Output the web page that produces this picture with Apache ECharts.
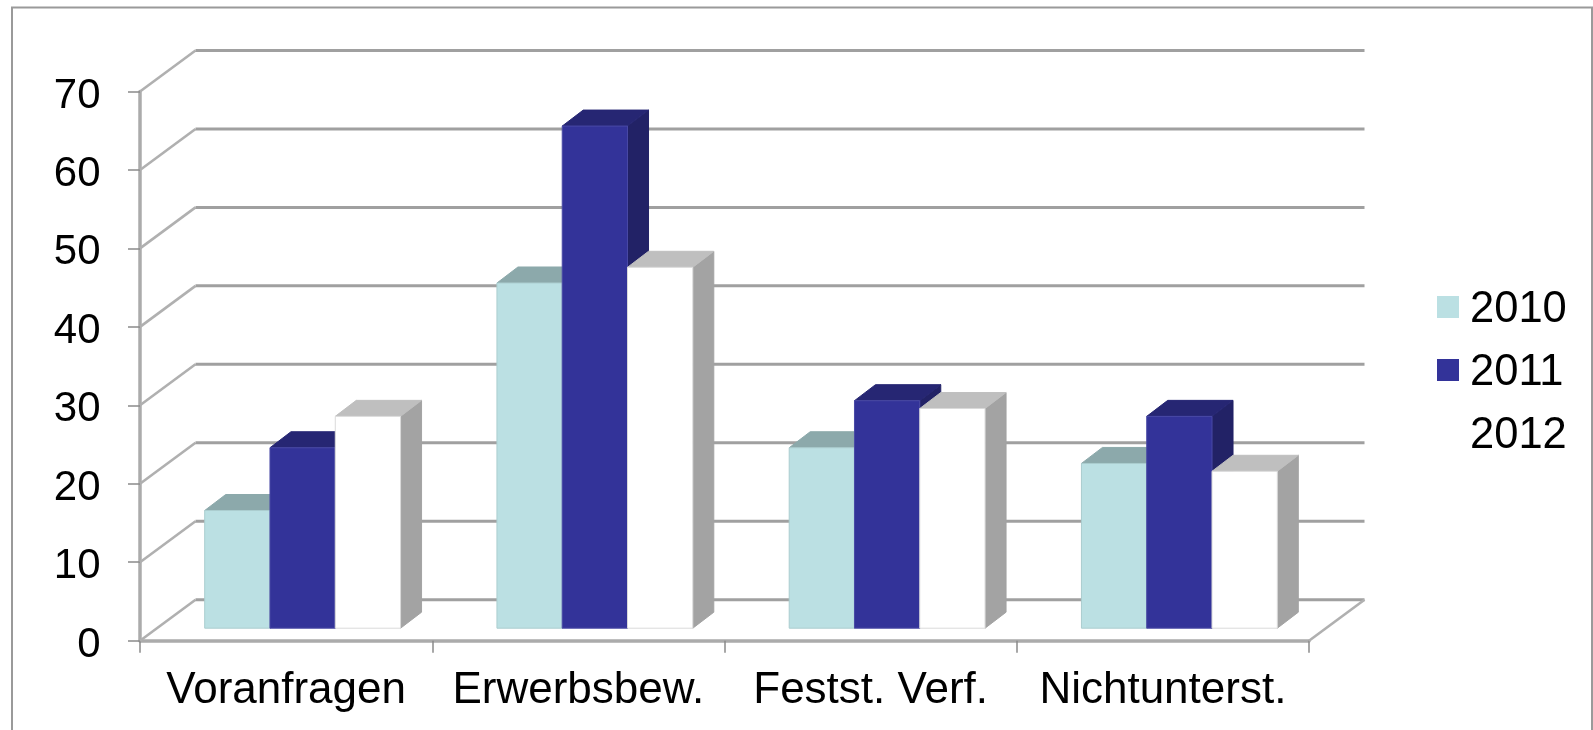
<!DOCTYPE html>
<html>
<head>
<meta charset="utf-8">
<script src="https://cdn.jsdelivr.net/npm/echarts@6/dist/echarts.min.js"></script>
<style>
html, body { margin: 0; padding: 0; background: #fff; overflow: hidden; }
#chart { width: 1593px; height: 730px; }
</style>
</head>
<body>
<div id="chart"></div>
<script>
const categories = ['Voranfragen', 'Erwerbsbew.', 'Festst. Verf.', 'Nichtunterst.'];
const years = ['2010', '2011', '2012'];
const values2010 = [15, 44, 23, 21];
const values2011 = [23, 64, 29, 27];
const values2012 = [27, 46, 28, 20];
const gridTicks = [0, 10, 20, 30, 40, 50, 60, 70];

// Pixel offsets of the oblique projection
const WALL_DX = 55.5, WALL_DY = 41;     // front plane to back wall
const BAR_DX = 16.5, BAR_DY = 12.5;     // front plane to bar front
const DEPTH_DX = 21, DEPTH_DY = 16;     // bar front to bar back
const BAR_SHARE = 0.2234;               // one bar as a share of the category band

const palette = [
  { front: '#BBE0E3', top: '#8CA9AB', side: '#8CA9AB', edge: '#ABCDCF' },
  { front: '#333399', top: '#262673', side: '#222266', edge: '#4A4AA6' },
  { front: '#FFFFFF', top: '#BFBFBF', side: '#A3A3A3', edge: '#DADADA' }
];

function barSeries(name, values, order) {
  const colors = palette[order];
  return {
    name,
    type: 'custom',
    z: 3 + order,
    clip: false,
    silent: true,
    itemStyle: { color: colors.front },
    encode: { x: 0, y: 1 },
    data: values.map((v, i) => [i, v]),
    renderItem(params, api) {
      const bw = api.size([1, 0])[0] * BAR_SHARE;
      const top = api.coord([api.value(0), api.value(1)]);
      const base = api.coord([api.value(0), 0]);
      const l = base[0] + BAR_DX + (order - 1.5) * bw;
      const r = l + bw;
      const t = top[1] - BAR_DY;
      const b = base[1] - BAR_DY;
      const poly = (points, fill, stroke) => ({
        type: 'polygon',
        shape: { points },
        style: { fill, stroke: stroke || fill, lineWidth: 1 }
      });
      return {
        type: 'group',
        children: [
          poly([[r, t], [r + DEPTH_DX, t - DEPTH_DY], [r + DEPTH_DX, b - DEPTH_DY], [r, b]], colors.side),
          poly([[l, t], [l + DEPTH_DX, t - DEPTH_DY], [r + DEPTH_DX, t - DEPTH_DY], [r, t]], colors.top),
          poly([[l, t], [r, t], [r, b], [l, b]], colors.front, colors.edge)
        ]
      };
    }
  };
}

const wallSeries = {
  name: 'wall',
  type: 'custom',
  z: 1,
  clip: false,
  silent: true,
  encode: { x: 0, y: 1 },
  data: gridTicks.map(v => [0, v]),
  renderItem(params, api) {
    const cs = params.coordSys;
    const y = api.coord([0, api.value(1)])[1];
    const xL = cs.x, xR = cs.x + cs.width;
    const children = [
      { type: 'line', shape: { x1: xL, y1: y, x2: xL + WALL_DX, y2: y - WALL_DY },
        style: { stroke: '#B0B0B0', lineWidth: 2.6 } },
      { type: 'line', shape: { x1: xL + WALL_DX, y1: y - WALL_DY, x2: xR + WALL_DX, y2: y - WALL_DY },
        style: { stroke: '#A0A0A0', lineWidth: 3 } }
    ];
    if (api.value(1) === 0) {
      children.push({ type: 'line', shape: { x1: xR, y1: y, x2: xR + WALL_DX, y2: y - WALL_DY },
        style: { stroke: '#B0B0B0', lineWidth: 2.6 } });
    }
    return { type: 'group', children };
  }
};

const FONT = '"Liberation Sans", Arial, sans-serif';
const chart = echarts.init(document.getElementById('chart'));
chart.setOption({
  animation: false,
  backgroundColor: '#fff',
  grid: { left: 140, right: 284, top: 91.5, bottom: 89.3 },
  xAxis: {
    type: 'category',
    data: categories,
    axisLine: { lineStyle: { color: '#ABABAB', width: 3.5 } },
    axisTick: { show: true, length: 12, alignWithLabel: false, lineStyle: { color: '#8A8A8A', width: 1.5 } },
    axisLabel: { interval: 0, margin: 28, fontFamily: FONT, fontSize: 44, color: '#000' },
    splitLine: { show: false }
  },
  yAxis: {
    type: 'value',
    min: 0,
    max: 70,
    interval: 10,
    axisLine: { show: true, lineStyle: { color: '#ABABAB', width: 3.5 } },
    axisTick: { show: true, length: 12, lineStyle: { color: '#8A8A8A', width: 1.5 } },
    axisLabel: { margin: 39.5, verticalAlign: 'top', lineHeight: 9, fontFamily: FONT, fontSize: 42, color: '#000' },
    splitLine: { show: false }
  },
  legend: {
    data: years,
    orient: 'vertical',
    left: 1437,
    top: 288,
    padding: 0,
    itemWidth: 22,
    itemHeight: 22,
    itemGap: 19,
    icon: 'rect',
    selectedMode: false,
    formatter: name => '{year|' + name + '}',
    textStyle: {
      rich: {
        year: { fontFamily: FONT, fontSize: 43.5, color: '#000', padding: [6, 0, 0, 6] }
      }
    }
  },
  graphic: [{
    type: 'polyline',
    silent: true,
    shape: { points: [[12, 730], [12, 7.5], [1592, 7.5], [1592, 730]] },
    style: { fill: 'none', stroke: '#9A9A9A', lineWidth: 2 }
  }],
  series: [
    wallSeries,
    barSeries(years[0], values2010, 0),
    barSeries(years[1], values2011, 1),
    barSeries(years[2], values2012, 2)
  ]
});
</script>
</body>
</html>
